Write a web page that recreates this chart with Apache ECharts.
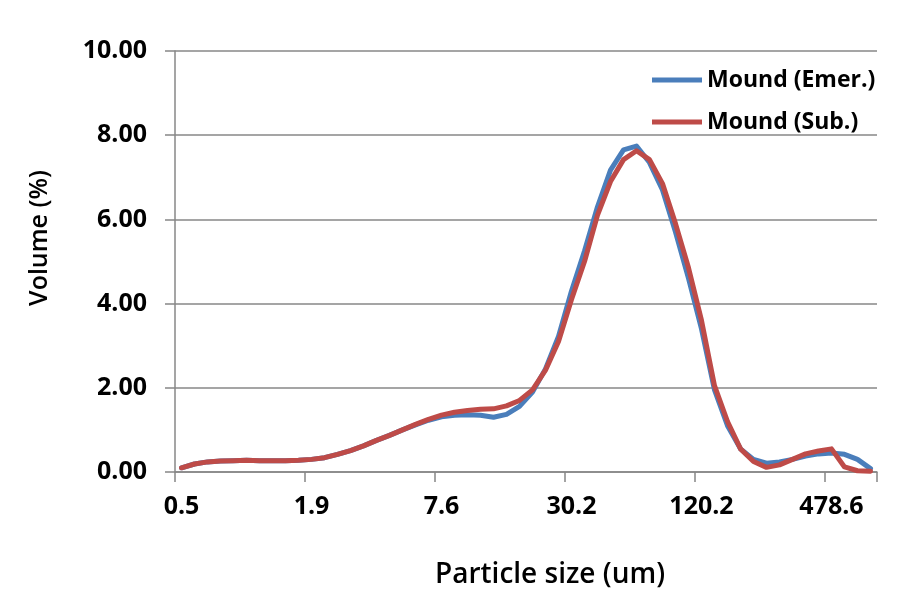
<!DOCTYPE html>
<html>
<head>
<meta charset="utf-8">
<script src="https://cdn.jsdelivr.net/npm/echarts@6/dist/echarts.min.js"></script>
<style>html,body{margin:0;padding:0;background:#fff}#c{width:915px;height:595px}</style>
</head>
<body>
<div id="c"></div>
<script>
// Particle size bins (um)
const sizes = [0.479, 0.550, 0.631, 0.724, 0.832, 0.955, 1.096, 1.259, 1.445, 1.660,
  1.905, 2.188, 2.512, 2.884, 3.311, 3.802, 4.365, 5.012, 5.754, 6.607,
  7.586, 8.710, 10.000, 11.482, 13.183, 15.136, 17.378, 19.953, 22.909, 26.303,
  30.200, 34.674, 39.811, 45.709, 52.481, 60.256, 69.183, 79.433, 91.201, 104.713,
  120.226, 138.038, 158.489, 181.970, 208.930, 239.883, 275.423, 316.228, 363.078, 416.869,
  478.630, 549.541, 630.957, 724.436];

const moundEmer = [0.10, 0.19, 0.24, 0.26, 0.27, 0.28, 0.27, 0.27, 0.27, 0.28,
  0.30, 0.34, 0.42, 0.51, 0.62, 0.75, 0.87, 1.00, 1.12, 1.23,
  1.31, 1.35, 1.36, 1.35, 1.30, 1.37, 1.56, 1.90, 2.45, 3.22,
  4.30, 5.25, 6.30, 7.17, 7.65, 7.74, 7.35, 6.70, 5.70, 4.60,
  3.40, 1.95, 1.10, 0.55, 0.30, 0.21, 0.24, 0.30, 0.38, 0.43,
  0.45, 0.42, 0.30, 0.08];

const moundSub = [0.10, 0.19, 0.24, 0.26, 0.27, 0.28, 0.27, 0.27, 0.27, 0.28,
  0.30, 0.34, 0.42, 0.51, 0.62, 0.75, 0.87, 1.00, 1.13, 1.25,
  1.35, 1.42, 1.46, 1.49, 1.50, 1.57, 1.70, 1.95, 2.42, 3.10,
  4.10, 5.00, 6.10, 6.90, 7.42, 7.63, 7.42, 6.85, 5.90, 4.85,
  3.60, 2.05, 1.20, 0.55, 0.25, 0.11, 0.17, 0.30, 0.43, 0.50,
  0.55, 0.12, 0.03, 0.02];

const seriesNames = ['Mound (Emer.)', 'Mound (Sub.)'];
const yTicks = {min: 0, max: 10, interval: 2};

const FONT = 'Open Sans';
const GREY = '#878787';
const chart = echarts.init(document.getElementById('c'));
chart.setOption({
  animation: false,
  backgroundColor: '#fff',
  grid: {left: 175, right: 38, top: 51, bottom: 123, containLabel: false},
  legend: {
    orient: 'vertical', left: 652, top: 64, padding: 0,
    itemWidth: 50, itemHeight: 5, itemGap: 10, icon: 'rect',
    textStyle: {fontFamily: FONT, fontWeight: 'bold', fontSize: 23, color: '#000', lineHeight: 32},
    data: seriesNames
  },
  xAxis: {
    type: 'category', data: sizes, boundaryGap: true,
    axisLine: {lineStyle: {color: GREY, width: 1.5}},
    axisTick: {show: true, interval: 9, length: 10, lineStyle: {color: GREY, width: 1.5}},
    axisLabel: {interval: 9, margin: 22, fontFamily: FONT, fontWeight: 'bold', fontSize: 25, color: '#000',
      formatter: v => Number(v).toFixed(1)},
    splitLine: {show: false}
  },
  yAxis: {
    type: 'value', min: yTicks.min, max: yTicks.max, interval: yTicks.interval,
    axisLine: {show: true, lineStyle: {color: GREY, width: 1.5}},
    axisTick: {show: true, length: 10, lineStyle: {color: GREY, width: 1.5}},
    axisLabel: {margin: 28, fontFamily: FONT, fontWeight: 'bold', fontSize: 25, color: '#000',
      formatter: v => v.toFixed(2)},
    splitLine: {show: true, lineStyle: {color: GREY, width: 1.5}}
  },
  graphic: [
    {type: 'text', x: 40, y: 238, rotation: Math.PI / 2,
      style: {text: 'Volume (%)', fontFamily: FONT, fontWeight: 600, fontSize: 25, fill: '#000',
        align: 'center', verticalAlign: 'middle'}},
    {type: 'text', x: 550, y: 575,
      style: {text: 'Particle size (um)', fontFamily: FONT, fontWeight: 600, fontSize: 28, fill: '#000',
        align: 'center', verticalAlign: 'middle'}}
  ],
  series: [
    {name: seriesNames[0], type: 'line', data: moundEmer, symbol: 'none', smooth: false,
      color: '#4a7ebb', lineStyle: {width: 5, color: '#4a7ebb', cap: 'round', join: 'round'}},
    {name: seriesNames[1], type: 'line', data: moundSub, symbol: 'none', smooth: false,
      color: '#be4b48', lineStyle: {width: 5, color: '#be4b48', cap: 'round', join: 'round'}}
  ]
});
</script>
</body>
</html>
